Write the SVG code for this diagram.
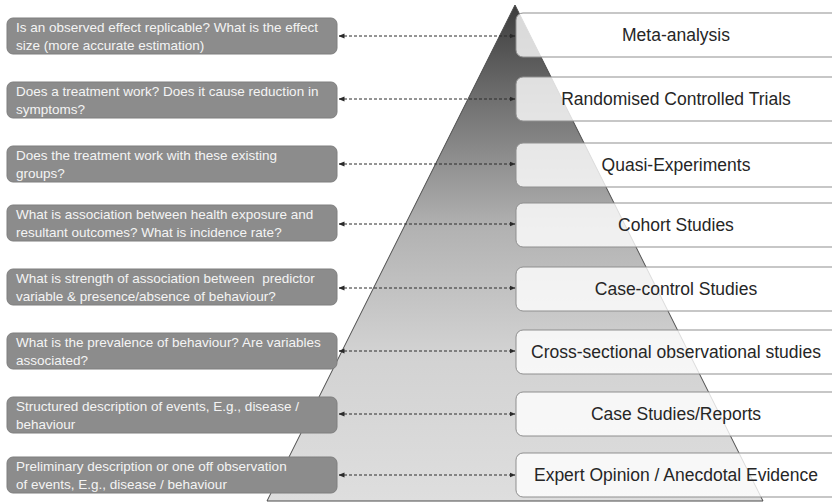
<svg xmlns="http://www.w3.org/2000/svg" width="832" height="504" viewBox="0 0 832 504">
  <defs>
    <linearGradient id="pyrFill" x1="0" y1="0" x2="0" y2="1">
      <stop offset="0" stop-color="#3c3c3c"/>
      <stop offset="0.2" stop-color="#727272"/>
      <stop offset="0.45" stop-color="#b2b2b2"/>
      <stop offset="0.7" stop-color="#d2d2d2"/>
      <stop offset="1" stop-color="#dedede"/>
    </linearGradient>
    <marker id="arrowHead" viewBox="0 0 6 6" refX="5.5" refY="3" markerWidth="6" markerHeight="6" markerUnits="userSpaceOnUse" orient="auto-start-reverse">
      <path d="M0,0.6 L6,3 L0,5.4 Z" fill="#2a2a2a"/>
    </marker>
    <style>
      .q rect { fill: #8c8c8c; stroke: #7e7e7e; stroke-width: 1; }
      .q text { font-family: "Liberation Sans", Arial, sans-serif; font-size: 13.5px; fill: #f4f4f4; }
      .lvl rect { fill: #ffffff; fill-opacity: 0.8; stroke: #8f8f8f; stroke-width: 1; }
      .lvl text { font-family: "Liberation Sans", Arial, sans-serif; font-size: 17.5px; fill: #262626; text-anchor: middle; }
      .links line { stroke: #2a2a2a; stroke-width: 1; stroke-dasharray: 3 2; marker-start: url(#arrowHead); marker-end: url(#arrowHead); }
    </style>
  </defs>

  <rect width="832" height="504" fill="#ffffff"/>

  <!-- evidence pyramid -->
  <g id="pyramid">
    <polygon points="515,5 763,501 267,501" fill="url(#pyrFill)" stroke="#4a4a4a" stroke-width="1"/>
  </g>

  <!-- questions (left column) -->
  <g id="q1" class="q">
    <rect x="7" y="18" width="330" height="36" rx="6"/>
    <text x="16" y="31.5">Is an observed effect replicable? What is the effect</text>
    <text x="16" y="49.5">size (more accurate estimation)</text>
  </g>
  <g id="q2" class="q">
    <rect x="7" y="82" width="330" height="36" rx="6"/>
    <text x="16" y="95.5">Does a treatment work? Does it cause reduction in</text>
    <text x="16" y="113.5">symptoms?</text>
  </g>
  <g id="q3" class="q">
    <rect x="7" y="146" width="330" height="36" rx="6"/>
    <text x="16" y="159.5">Does the treatment work with these existing</text>
    <text x="16" y="177.5">groups?</text>
  </g>
  <g id="q4" class="q">
    <rect x="7" y="205" width="330" height="36" rx="6"/>
    <text x="16" y="218.5">What is association between health exposure and</text>
    <text x="16" y="236.5">resultant outcomes? What is incidence rate?</text>
  </g>
  <g id="q5" class="q">
    <rect x="7" y="269" width="330" height="36" rx="6"/>
    <text x="16" y="282.5" xml:space="preserve">What is strength of association between  predictor</text>
    <text x="16" y="300.5">variable &amp; presence/absence of behaviour?</text>
  </g>
  <g id="q6" class="q">
    <rect x="7" y="333" width="330" height="36" rx="6"/>
    <text x="16" y="346.5">What is the prevalence of behaviour? Are variables</text>
    <text x="16" y="364.5">associated?</text>
  </g>
  <g id="q7" class="q">
    <rect x="7" y="397" width="330" height="36" rx="6"/>
    <text x="16" y="410.5">Structured description of events, E.g., disease /</text>
    <text x="16" y="428.5">behaviour</text>
  </g>
  <g id="q8" class="q">
    <rect x="7" y="457" width="330" height="36" rx="6"/>
    <text x="16" y="470.5">Preliminary description or one off observation</text>
    <text x="16" y="488.5">of events, E.g., disease / behaviour</text>
  </g>

  <!-- study designs (right column) -->
  <g id="lvl1" class="lvl">
    <rect x="516" y="13" width="330" height="44" rx="7"/>
    <text x="676" y="41">Meta-analysis</text>
  </g>
  <g id="lvl2" class="lvl">
    <rect x="516" y="77" width="330" height="44" rx="7"/>
    <text x="676" y="105">Randomised Controlled Trials</text>
  </g>
  <g id="lvl3" class="lvl">
    <rect x="516" y="143" width="330" height="44" rx="7"/>
    <text x="676" y="171">Quasi-Experiments</text>
  </g>
  <g id="lvl4" class="lvl">
    <rect x="516" y="203" width="330" height="44" rx="7"/>
    <text x="676" y="231">Cohort Studies</text>
  </g>
  <g id="lvl5" class="lvl">
    <rect x="516" y="267" width="330" height="44" rx="7"/>
    <text x="676" y="295">Case-control Studies</text>
  </g>
  <g id="lvl6" class="lvl">
    <rect x="516" y="330" width="330" height="44" rx="7"/>
    <text x="676" y="358">Cross-sectional observational studies</text>
  </g>
  <g id="lvl7" class="lvl">
    <rect x="516" y="392" width="330" height="44" rx="7"/>
    <text x="676" y="420">Case Studies/Reports</text>
  </g>
  <g id="lvl8" class="lvl">
    <rect x="516" y="453" width="330" height="44" rx="7"/>
    <text x="676" y="481">Expert Opinion / Anecdotal Evidence</text>
  </g>

  <!-- two-way dashed connectors -->
  <g id="connectors" class="links">
    <line x1="339" y1="36" x2="515" y2="36"/>
    <line x1="339" y1="99" x2="515" y2="99"/>
    <line x1="339" y1="164" x2="515" y2="164"/>
    <line x1="339" y1="224" x2="515" y2="224"/>
    <line x1="339" y1="288" x2="515" y2="288"/>
    <line x1="339" y1="351" x2="515" y2="351"/>
    <line x1="339" y1="414" x2="515" y2="414"/>
    <line x1="339" y1="475" x2="515" y2="475"/>
  </g>
</svg>
